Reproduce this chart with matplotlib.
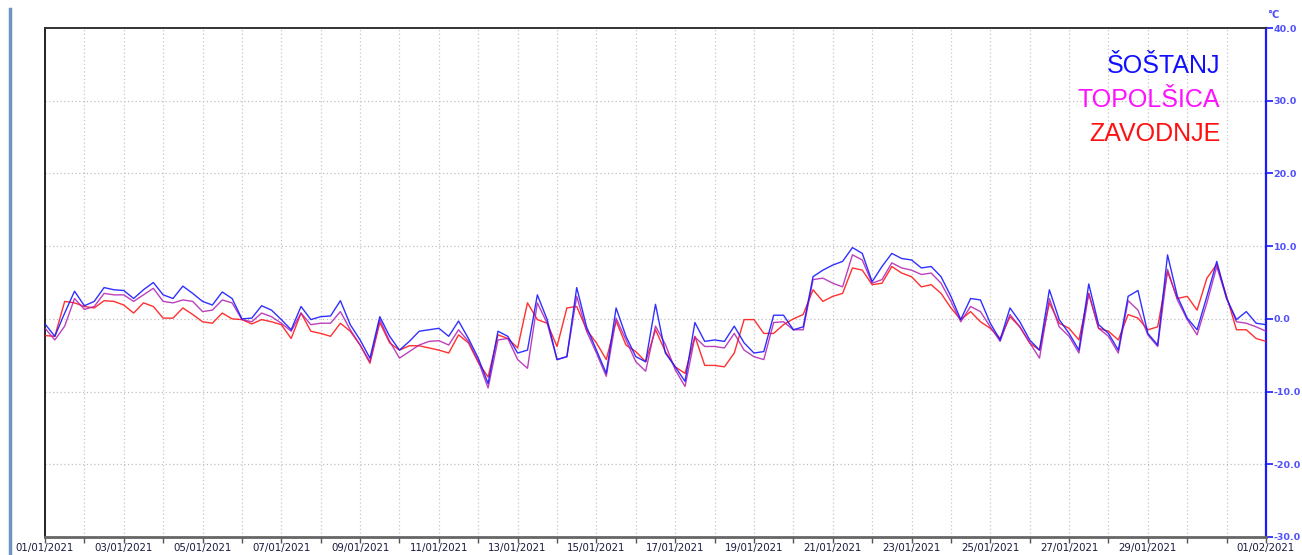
import matplotlib
matplotlib.use("Agg")
import matplotlib.pyplot as plt
import numpy as np

# ---- data (quarter-day samples, 01/01/2021 00:00 .. 01/02/2021 00:00) ----
sostanj = [
    -0.7, -2.4, 0.8, 3.8,
    1.8, 2.4, 4.3, 4.0,
    3.9, 2.8, 4.0, 5.0,
    3.3, 2.8, 4.5, 3.5,
    2.4, 1.9, 3.7, 2.8,
    0.0, 0.1, 1.8, 1.2,
    -0.1, -1.5, 1.7, -0.1,
    0.3, 0.4, 2.5, -0.8,
    -2.9, -5.4, 0.3, -2.4,
    -4.3, -3.1, -1.7, -1.5,
    -1.3, -2.4, -0.3, -2.7,
    -5.4, -8.9, -1.7, -2.4,
    -4.7, -4.3, 3.3, -0.1,
    -5.6, -5.2, 4.3, -1.1,
    -4.3, -7.5, 1.5, -2.4,
    -5.2, -5.9, 2.0, -4.7,
    -6.6, -8.6, -0.5, -3.1,
    -2.9, -3.1, -1.0, -3.3,
    -4.7, -4.5, 0.5, 0.5,
    -1.5, -1.1, 5.8, 6.7,
    7.4, 7.9, 9.8, 9.0,
    5.1, 7.2, 9.0, 8.3,
    8.1, 7.0, 7.2, 5.8,
    3.1, -0.1, 2.8, 2.6,
    -0.6, -2.9, 1.5, -0.4,
    -2.9, -4.3, 4.0, -0.1,
    -2.0, -4.3, 4.8, -0.8,
    -2.0, -4.3, 3.1, 3.9,
    -2.0, -3.6, 8.8, 3.1,
    0.1, -1.5, 3.1, 7.9,
    2.8, -0.1, 1.0, -0.6,
    -0.8,
]

topolsica = [
    -1.3, -2.9, -1.0, 2.8,
    1.3, 1.7, 3.5, 3.3,
    3.3, 2.4, 3.3, 4.2,
    2.4, 2.2, 2.6, 2.4,
    1.0, 1.2, 2.6, 2.2,
    -0.1, -0.4, 0.8, 0.3,
    -0.6, -1.7, 0.8, -0.8,
    -0.6, -0.6, 1.0, -1.5,
    -3.6, -5.9, -0.1, -3.1,
    -5.4, -4.5, -3.6, -3.1,
    -3.0, -3.6, -1.5, -3.1,
    -5.8, -9.5, -2.9, -2.7,
    -5.6, -6.8, 2.2, -0.6,
    -5.6, -5.2, 3.1, -1.7,
    -4.7, -7.9, 0.1, -2.9,
    -5.9, -7.2, -1.0, -3.5,
    -7.0, -9.3, -2.5, -3.8,
    -3.8, -4.0, -2.0, -4.3,
    -5.2, -5.6, -0.5, -0.4,
    -1.5, -1.5, 5.4, 5.6,
    4.9, 4.4, 8.8, 8.1,
    4.9, 5.4, 7.7, 7.0,
    6.7, 6.1, 6.3, 4.9,
    2.4, -0.4, 1.7, 1.0,
    -1.1, -3.1, 0.6, -1.1,
    -3.3, -5.4, 2.8, -1.1,
    -2.4, -4.7, 3.5, -1.3,
    -2.4, -4.7, 2.5, 1.2,
    -2.2, -3.8, 6.8, 2.6,
    -0.1, -2.2, 2.2, 7.2,
    2.8, -0.4, -0.6, -1.1,
    -1.7,
]

zavodnje = [
    -2.3, -2.4, 2.4, 2.2,
    1.7, 1.5, 2.5, 2.4,
    1.9, 0.8, 2.2, 1.7,
    0.1, 0.1, 1.5, 0.6,
    -0.4, -0.6, 0.8, 0.0,
    -0.1, -0.7, -0.1, -0.4,
    -0.8, -2.7, 0.8, -1.7,
    -2.0, -2.4, -0.6, -1.7,
    -3.6, -6.1, -0.5, -3.3,
    -4.3, -3.7, -3.7, -4.0,
    -4.3, -4.7, -2.2, -3.3,
    -6.0, -8.0, -2.2, -2.7,
    -4.0, 2.2, -0.1, -0.6,
    -3.8, 1.5, 1.7, -1.5,
    -3.3, -5.6, -0.3, -3.6,
    -4.5, -5.9, -1.5, -4.5,
    -6.6, -7.5, -2.4, -6.4,
    -6.4, -6.6, -4.7, -0.1,
    -0.1, -2.0, -2.0, -0.8,
    0.0, 0.6, 4.0, 2.4,
    3.1, 3.5, 7.0, 6.7,
    4.7, 4.9, 7.2, 6.3,
    5.8, 4.4, 4.7, 3.5,
    1.5, -0.1, 1.0, -0.4,
    -1.3, -2.7, 0.3, -1.1,
    -3.3, -4.3, 2.2, -0.6,
    -1.3, -2.9, 3.5, -1.3,
    -1.7, -2.9, 0.6, 0.1,
    -1.5, -1.1, 6.5, 2.8,
    3.1, 1.2, 5.6, 7.5,
    3.1, -1.5, -1.5, -2.7,
    -3.1,
]

station_names = ["ŠOŠTANJ", "TOPOLŠICA", "ZAVODNJE"]
date_labels = ["01/01/2021", "03/01/2021", "05/01/2021", "07/01/2021", "09/01/2021",
               "11/01/2021", "13/01/2021", "15/01/2021", "17/01/2021", "19/01/2021",
               "21/01/2021", "23/01/2021", "25/01/2021", "27/01/2021", "29/01/2021",
               "01/02/2021"]
date_label_days = [0, 2, 4, 6, 8, 10, 12, 14, 16, 18, 20, 22, 24, 26, 28, 31]
y_ticks = [-30, -20, -10, 0, 10, 20, 30, 40]

# ---- figure ----
W, H = 1302, 555
fig = plt.figure(figsize=(W / 100, H / 100), dpi=100)
fig.patch.set_facecolor("white")

ax = fig.add_axes([45 / W, 1 - 537 / H, (1266 - 45) / W, (537 - 28) / H])

t = np.arange(len(sostanj)) / 4.0

c_blue = "#1a1aff"
c_mag = "#b020b0"
c_red = "#ff1a1a"
ax.plot(t, zavodnje, color=c_red, lw=1.0, alpha=0.9, zorder=3)
ax.plot(t, topolsica, color=c_mag, lw=1.0, alpha=0.85, zorder=4)
ax.plot(t, sostanj, color=c_blue, lw=1.0, alpha=0.9, zorder=5)

ax.set_xlim(0, 31)
ax.set_ylim(-30, 40)

# x ticks: every day, labels every second day (+ last day)
days = list(range(32))
lab_map = dict(zip(date_label_days, date_labels))
ax.set_xticks(days)
ax.set_xticklabels([lab_map.get(d, "") for d in days])
ax.tick_params(axis="x", which="major", length=4, width=1, color="#555555",
               direction="out", pad=0.5, labelsize=7.4, labelcolor="#1a1a40")

for d in range(1, 31):
    ax.axvline(d, color="#c8c8c8", lw=0.9, ls=(0, (1, 2)), zorder=1)
for v in y_ticks[1:-1]:
    ax.axhline(v, color="#c0c0c0", lw=0.9, ls=(0, (1, 2)), zorder=1)

ax.yaxis.tick_right()
ax.set_yticks(y_ticks)
ax.set_yticklabels([f"{v:.1f}" for v in y_ticks])
ax.tick_params(axis="y", which="both", length=5, width=1.2, color="#1a1aff",
               labelcolor="#5050ff", labelsize=6.8, pad=0.5, direction="out")
for lbl in ax.get_yticklabels():
    lbl.set_fontweight("bold")

ax.spines["right"].set_color("#1a1aff")
ax.spines["right"].set_linewidth(1.6)
ax.spines["left"].set_color("#222222")
ax.spines["left"].set_linewidth(1.4)
ax.spines["top"].set_color("#333333")
ax.spines["top"].set_linewidth(1.4)
ax.spines["bottom"].set_color("#666666")
ax.spines["bottom"].set_linewidth(2.0)

# unit
fig.text(1273 / W, 1 - 15 / H, "°C", color="#5050ff", fontsize=7.2,
         ha="center", va="center", fontweight="bold")

# station labels
for name, col, yy in zip(station_names, ["#1010ff", "#ff10ff", "#ff1010"], [66, 100, 134]):
    ax.text(1220 / W, 1 - yy / H, name, transform=fig.transFigure, color=col,
            fontsize=18, ha="right", va="center", family="Liberation Sans")

# left border bar
fig.add_artist(plt.Line2D([9.5 / W, 9.5 / W], [0, 1 - 9 / H], transform=fig.transFigure,
                          color="#6f94c4", lw=2.5))

fig.savefig("out.png", dpi=100, facecolor="white")
